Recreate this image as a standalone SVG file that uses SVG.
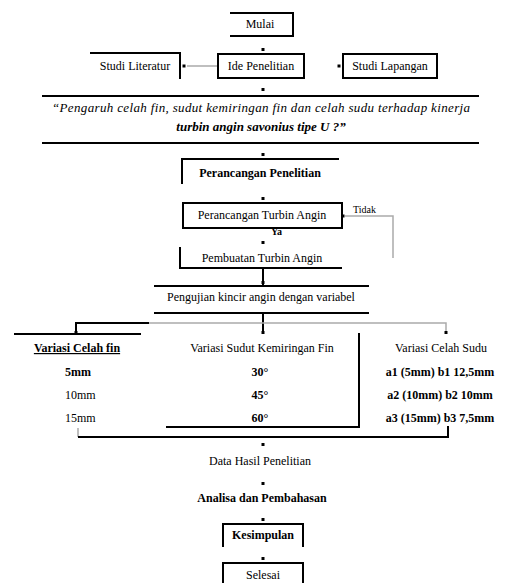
<svg xmlns="http://www.w3.org/2000/svg" width="509" height="583" viewBox="0 0 509 583">
<style>
text{font-family:"Liberation Serif","Times New Roman",serif;font-size:12px;fill:#000}
.b{font-weight:bold}
.i{font-style:italic}
.m{text-anchor:middle}
.ln{fill:none;stroke:#000;stroke-width:2}
.gl{fill:none;stroke:#aaa;stroke-width:1.5}
.dot{stroke:#000;stroke-width:3;fill:none}
</style>
<rect width="509" height="583" fill="#fff"/>
<g id="connectors">
  <path class="gl" d="M187 66H218"/>
  <path class="gl" d="M345 216H393V258"/>
  <path class="ln" d="M263 268V285"/>
  <path class="ln" d="M263 313V333"/>
  <path class="gl" d="M149 323H446V333"/>
  <path class="ln" d="M76 333V323H149"/>
  <path class="dot" d="M263 48v3"/>
  <path class="dot" d="M184 64.5v3"/>
  <path class="dot" d="M339 64.5v3"/>
  <path class="dot" d="M263 88v3"/>
  <path class="dot" d="M263 153v3"/>
  <path class="dot" d="M263 197v3"/>
  <path class="dot" d="M263 241v3"/>
  <path class="dot" d="M263 281v3"/>
  <path class="dot" d="M343 214.5v3"/>
  <path class="dot" d="M76 331v3"/>
  <path class="dot" d="M263 331v3"/>
  <path class="dot" d="M446 331v3"/>
  <path class="dot" d="M263 443v3"/>
  <path class="dot" d="M263 482v3"/>
  <path class="dot" d="M263 518v3"/>
  <path class="dot" d="M263 557v3"/>
  <text x="353" y="213" style="font-size:10px">Tidak</text>
  <text x="271" y="235" class="b" style="font-size:10px">Ya</text>
</g>
<g id="mulai">
  <path class="ln" d="M230 13H293V36H230"/>
  <text x="260" y="28" class="m">Mulai</text>
</g>
<g id="studi-literatur">
  <path class="ln" d="M90 53H180V79"/>
  <text x="135" y="70" class="m">Studi Literatur</text>
</g>
<g id="ide-penelitian">
  <rect class="ln" x="218" y="54" width="86" height="24"/>
  <text x="261" y="70" class="m">Ide Penelitian</text>
</g>
<g id="studi-lapangan">
  <rect class="ln" x="343" y="54" width="94" height="24"/>
  <text x="390" y="70" class="m">Studi Lapangan</text>
</g>
<g id="rumusan">
  <path class="ln" d="M42 96H479M42 143H479"/>
  <text x="52" y="112" class="i" style="font-size:13px" textLength="418" lengthAdjust="spacing">“Pengaruh celah fin, sudut kemiringan fin dan celah sudu terhadap kinerja</text>
  <text x="261" y="131" class="m b i" style="font-size:13px">turbin angin savonius tipe U ?”</text>
</g>
<g id="perancangan-penelitian">
  <path class="ln" d="M182 184V159H339"/>
  <text x="260" y="177" class="m b">Perancangan Penelitian</text>
</g>
<g id="perancangan-turbin">
  <rect class="ln" x="183" y="203" width="159" height="25"/>
  <text x="262" y="219" class="m">Perancangan Turbin Angin</text>
</g>
<g id="pembuatan-turbin">
  <path class="ln" d="M180 247V268H342"/>
  <text x="262" y="262" class="m">Pembuatan Turbin Angin</text>
</g>
<g id="pengujian">
  <path class="ln" d="M154 286H369M154 313H369"/>
  <text x="261" y="301" class="m">Pengujian kincir angin dengan variabel</text>
</g>
<g id="variasi-celah-fin">
  <path class="ln" d="M14 334H141"/>
  <text x="77" y="352" class="m b" text-decoration="underline">Variasi Celah fin</text>
  <text x="65" y="376" class="b">5mm</text>
  <text x="65" y="399">10mm</text>
  <text x="65" y="422">15mm</text>
</g>
<g id="variasi-sudut">
  <path class="ln" d="M359 333V427H166"/>
  <text x="262" y="352" class="m">Variasi Sudut Kemiringan Fin</text>
  <text x="260" y="376" class="m b">30°</text>
  <text x="260" y="399" class="m b">45°</text>
  <text x="260" y="422" class="m b">60°</text>
</g>
<g id="variasi-celah-sudu">
  <text x="441" y="352" class="m">Variasi Celah Sudu</text>
  <text x="440" y="376" class="m b">a1 (5mm) b1 12,5mm</text>
  <text x="440" y="399" class="m b">a2 (10mm) b2 10mm</text>
  <text x="440" y="422" class="m b">a3 (15mm) b3 7,5mm</text>
</g>
<g id="gabung">
  <path class="gl" d="M78 428V437"/>
  <path class="ln" d="M78 437H448V426"/>
</g>
<g id="data-hasil">
  <text x="260" y="465" class="m">Data Hasil Penelitian</text>
</g>
<g id="analisa">
  <text x="262" y="502" class="m b">Analisa dan Pembahasan</text>
</g>
<g id="kesimpulan">
  <path class="ln" d="M223 547V524H303V547"/>
  <text x="263" y="539" class="m b">Kesimpulan</text>
</g>
<g id="selesai">
  <path class="ln" d="M223 584V563H303V584"/>
  <text x="263" y="579" class="m">Selesai</text>
</g>
</svg>
